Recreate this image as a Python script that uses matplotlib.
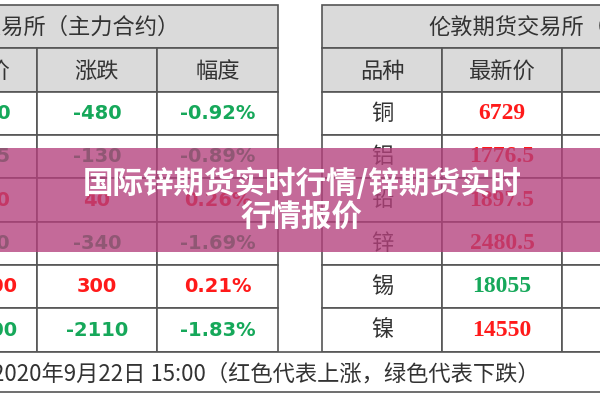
import matplotlib
matplotlib.use("Agg")
import matplotlib.pyplot as plt
from matplotlib.patches import Rectangle

plt.rcParams['font.family'] = ['Noto Sans CJK SC', 'DejaVu Sans']

# data
left_title = "上海期货交易所（主力合约）"
left_headers = ["最新价", "涨跌", "幅度"]
left_price = ["51600", "14525", "15420", "19950", "145000", "113500"]
left_change = ["-480", "-130", "40", "-340", "300", "-2110"]
left_pct = ["-0.92%", "-0.89%", "0.26%", "-1.69%", "0.21%", "-1.83%"]
left_up = [False, False, True, False, True, False]

right_title = "伦敦期货交易所（3个月）"
right_headers = ["品种", "最新价", "涨跌"]
metals = ["铜", "铝", "铅", "锌", "锡", "镍"]
right_price = ["6729", "1776.5", "1897.5", "2480.5", "18055", "14550"]
right_change = ["+23", "-8", "+7.5", "+6", "-20", "+40"]
right_up = [True, True, True, True, False, True]

footer = "2020年9月22日 15:00（红色代表上涨，绿色代表下跌）"
banner = "国际锌期货实时行情/锌期货实时\n行情报价"

RED = "#ff1a1a"
GREEN = "#16a85a"
GRAY = "#dadada"
LINE = "#555555"

fig = plt.figure(figsize=(6, 4), dpi=100)
ax = fig.add_axes([0, 0, 1, 1])
ax.set_xlim(0, 600)
ax.set_ylim(400, 0)
ax.axis("off")

rows_y = [92, 135, 178, 222, 265, 308, 352]
lx = [-83, 37, 157, 278]
rx = [322, 442, 562, 682]

def rect(x0, y0, x1, y1, fc):
    ax.add_patch(Rectangle((x0, y0), x1 - x0, y1 - y0, facecolor=fc,
                           edgecolor=LINE, lw=1.2, zorder=1))

for cols in (lx, rx):
    rect(cols[0], 5, cols[-1], 48, GRAY)
    for i in range(3):
        rect(cols[i], 48, cols[i + 1], 92, GRAY)
        for r in range(6):
            rect(cols[i], rows_y[r], cols[i + 1], rows_y[r + 1], "white")

ax.text(35, 27, left_title, ha="center", va="center", fontsize=16, color="#333", zorder=3)
ax.text(557, 27, right_title, ha="center", va="center", fontsize=16, color="#333", zorder=3)
for i in range(3):
    ax.text((lx[i] + lx[i + 1]) / 2, 71, left_headers[i], ha="center", va="center", fontsize=16, color="#333", zorder=3)
    ax.text((rx[i] + rx[i + 1]) / 2, 71, right_headers[i], ha="center", va="center", fontsize=16, color="#333", zorder=3)

for r in range(6):
    yc = (rows_y[r] + rows_y[r + 1]) / 2
    c = RED if left_up[r] else GREEN
    for i, v in enumerate((left_price[r], left_change[r], left_pct[r])):
        ax.text((lx[i] + lx[i + 1]) / 2, yc, v, ha="center", va="center", fontsize=14,
                fontweight="bold", color=c, family="DejaVu Sans", zorder=3)
    ax.text(382, yc, metals[r], ha="center", va="center", fontsize=16, color="#333", zorder=3)
    c2 = RED if right_up[r] else GREEN
    ax.text(502, yc, right_price[r], ha="center", va="center", fontsize=17, fontweight="bold",
            color=c2, family="Liberation Serif", zorder=3)
    ax.text(622, yc, right_change[r], ha="center", va="center", fontsize=17, fontweight="bold",
            color=c2, family="Liberation Serif", zorder=3)

ax.add_patch(Rectangle((-10, 352), 620, 40, facecolor="white", edgecolor=LINE, lw=1.2, zorder=1))
ax.text(-8, 374, footer, ha="left", va="center", fontsize=16, color="#333", zorder=3)

ax.add_patch(Rectangle((0, 148), 600, 104, facecolor="#b4407c", alpha=0.78, lw=0, zorder=4))
ax.text(302, 200, banner, ha="center", va="center", fontsize=22, fontweight="bold",
        color="white", linespacing=1.05, zorder=5)

fig.savefig("out.png", dpi=100)
